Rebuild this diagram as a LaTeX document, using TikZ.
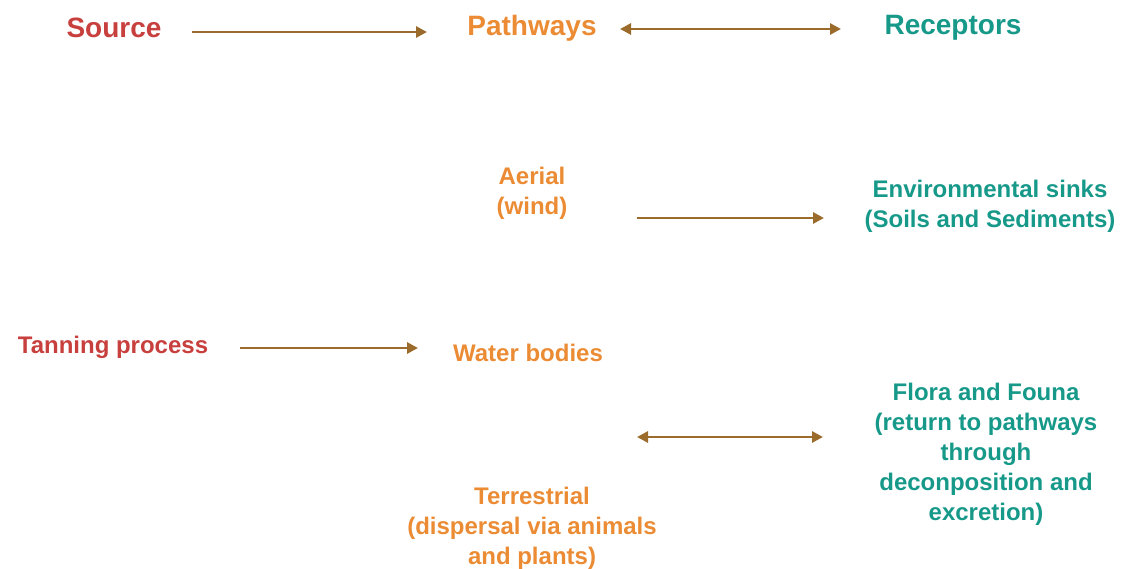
\documentclass[tikz,border=0pt]{standalone}
\usepackage{fontspec}
\setmainfont{Liberation Sans}
\usetikzlibrary{arrows.meta}
\definecolor{srcred}{HTML}{C8403E}
\definecolor{pathor}{HTML}{EB8B34}
\definecolor{recteal}{HTML}{17998A}
\definecolor{arrbrown}{HTML}{9B6B2B}
\begin{document}
\begin{tikzpicture}[x=1pt,y=-1pt,
  title/.style={font=\bfseries\fontsize{28}{32}\selectfont, inner sep=0pt},
  body/.style={font=\bfseries\fontsize{24}{30}\selectfont, align=center, inner sep=0pt},
  arr/.style={draw=arrbrown, line width=2.8pt, -{Triangle[length=11pt,width=11pt]}},
  darr/.style={draw=arrbrown, line width=2.8pt, {Triangle[length=11pt,width=11pt]}-{Triangle[length=11pt,width=11pt]}}]
\useasboundingbox (0,0) rectangle (1123,569);
% titles
\node[title, text=srcred] (src) at (114,28) {Source};
\node[title, text=pathor] (pth) at (532,28) {Pathways};
\node[title, text=recteal] (rec) at (953,28) {Receptors};
% pathways
\node[body, text=pathor] (aer) at (532,193) {Aerial\\(wind)};
\node[body, text=pathor] (wat) at (528,353) {Water bodies};
\node[body, text=pathor] (ter) at (532,528) {Terrestrial\\(dispersal via animals\\and plants)};
% source
\node[body, text=srcred] (tan) at (113,347) {Tanning process};
% receptors
\node[body, text=recteal] (env) at (990,206) {Environmental sinks\\(Soils and Sediments)};
\node[body, text=recteal] (flo) at (986,454) {Flora and Founa\\(return to pathways\\through\\deconposition and\\excretion)};
% arrow ends
\coordinate (a1s) at (192,32); \coordinate (a1e) at (427,32);
\coordinate (a2s) at (620,29); \coordinate (a2e) at (841,29);
\coordinate (a3s) at (637,218); \coordinate (a3e) at (824,218);
\coordinate (a4s) at (240,348); \coordinate (a4e) at (418,348);
\coordinate (a5s) at (637,437); \coordinate (a5e) at (823,437);
\draw[arr] (a1s) -- (a1e);
\draw[darr] (a2s) -- (a2e);
\draw[arr] (a3s) -- (a3e);
\draw[arr] (a4s) -- (a4e);
\draw[darr] (a5s) -- (a5e);
\end{tikzpicture}
\end{document}
